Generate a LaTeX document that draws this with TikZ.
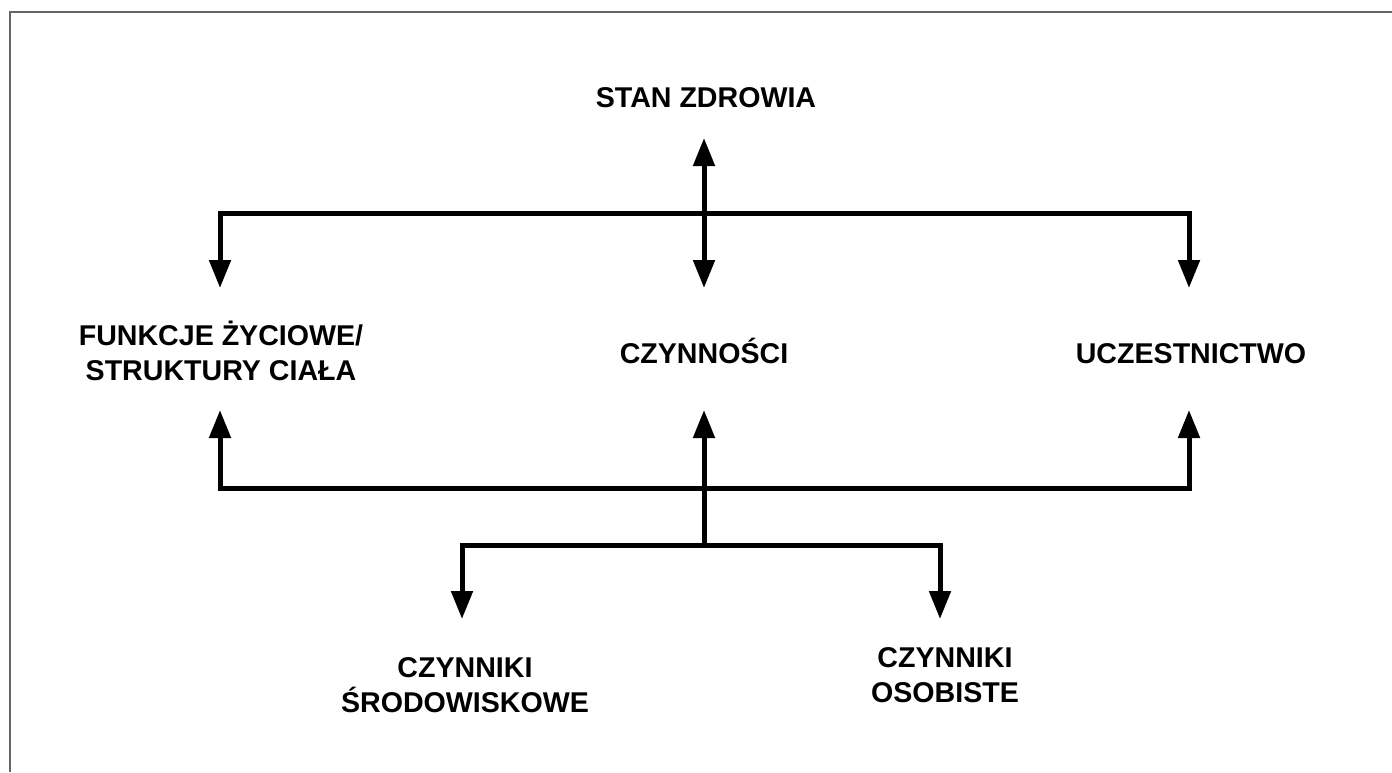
\documentclass[tikz,border=0pt]{standalone}
\usepackage{fontspec}
\setmainfont{Liberation Sans}
\usetikzlibrary{arrows.meta}
\begin{document}
\begin{tikzpicture}[x=1pt,y=-1pt,
  lbl/.style={font=\fontsize{28.6}{35}\selectfont\bfseries, align=center, inner sep=0pt},
  one/.style={lbl, text height=20.5pt, text depth=0pt},
  conn/.style={line width=5pt},
  arr/.style={conn, -{Triangle[width=21pt,length=28pt]}},
  frame/.style={black!60, line width=1.5pt}]
\useasboundingbox (0,0) rectangle (1392,772);
\draw[frame] (10,772) -- (10,12) -- (1392,12);

% labels
\node[one] (S) at (706,97) {STAN ZDROWIA};
\node[lbl] (F) at (221,351) {FUNKCJE ŻYCIOWE/\\STRUKTURY CIAŁA};
\node[one] (C) at (704,353) {CZYNNOŚCI};
\node[one] (U) at (1191,353) {UCZESTNICTWO};
\node[lbl] (E) at (465,685) {CZYNNIKI\\ŚRODOWISKOWE};
\node[lbl] (O) at (945,675) {CZYNNIKI\\OSOBISTE};

% junctions and arrow tips
\coordinate (uM) at (704,213);
\coordinate (lM) at (704,488);
\coordinate (bM) at (704,545);
\coordinate (tS) at (704,138);
\coordinate (tFd) at (220,288);
\coordinate (tCd) at (704,288);
\coordinate (tUd) at (1189,288);
\coordinate (tFu) at (220,410);
\coordinate (tCu) at (704,410);
\coordinate (tUu) at (1189,410);
\coordinate (tE) at (462,619);
\coordinate (tO) at (940,619);

% upper branch
\draw[arr] (uM) -- (tS);
\draw[arr] (uM) -- (tCd);
\draw[arr] (uM) -| (tFd);
\draw[arr] (uM) -| (tUd);
% lower branch
\draw[arr] (lM) -| (tFu);
\draw[arr] (lM) -| (tUu);
\draw[arr] (bM) -- (tCu);
% bottom branch
\draw[arr] (bM) -| (tE);
\draw[arr] (bM) -| (tO);
\end{tikzpicture}
\end{document}
